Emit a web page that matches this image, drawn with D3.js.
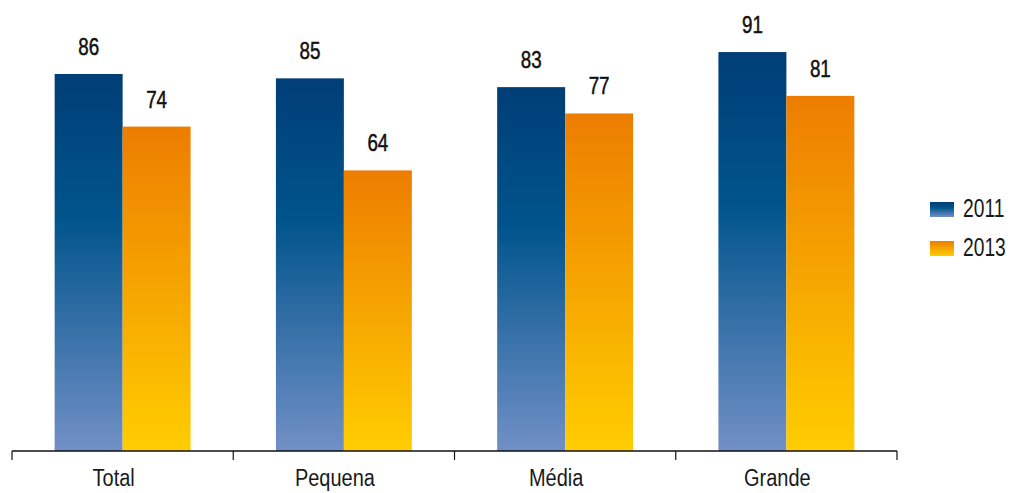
<!DOCTYPE html>
<html><head><meta charset="utf-8">
<script src="https://cdn.jsdelivr.net/npm/d3@7"></script>
<style>
body{margin:0;background:#fff;}
text{font-family:"Liberation Sans",Arial,sans-serif;}
</style></head>
<body><svg id="c" width="1011" height="493"></svg>
<script>
const categories = ["Total","Pequena","Média","Grande"];
const seriesNames = ["2011","2013"];
const values2011 = [86,85,83,91];
const values2013 = [74,64,77,81];

const svg = d3.select("#c");
const defs = svg.append("defs");
const g1 = defs.append("linearGradient").attr("id","gBlue").attr("x1",0).attr("y1",0).attr("x2",0).attr("y2",1);
g1.append("stop").attr("offset","0%").attr("stop-color","#003e77");
g1.append("stop").attr("offset","38%").attr("stop-color","#00548c");
g1.append("stop").attr("offset","100%").attr("stop-color","#7190c6");
const g2 = defs.append("linearGradient").attr("id","gOrange").attr("x1",0).attr("y1",0).attr("x2",0).attr("y2",1);
g2.append("stop").attr("offset","0%").attr("stop-color","#ed7d00");
g2.append("stop").attr("offset","100%").attr("stop-color","#ffcd00");
const fills = ["url(#gBlue)","url(#gOrange)"];

const x = d3.scaleBand().domain(categories).range([12,897]).paddingInner(0).paddingOuter(0);
const xs = d3.scaleBand().domain(seriesNames).range([0,x.bandwidth()]).paddingInner(0).paddingOuter(0.6277);
const y = d3.scaleLinear().domain([0,100]).range([451,12.6]);

const data = categories.map((c,i)=>({cat:c, vals:[values2011[i],values2013[i]]}));

const grp = svg.selectAll("g.cat").data(data).join("g").attr("class","cat")
  .attr("transform",d=>`translate(${x(d.cat)},0)`);
grp.selectAll("rect").data(d=>d.vals.map((v,j)=>({s:seriesNames[j],v,j}))).join("rect")
  .attr("x",d=>xs(d.s)).attr("width",xs.bandwidth())
  .attr("y",d=>y(d.v)).attr("height",d=>y(0)-y(d.v))
  .attr("fill",d=>fills[d.j]);
grp.selectAll("text.v").data(d=>d.vals.map((v,j)=>({s:seriesNames[j],v,j}))).join("text").attr("class","v")
  .attr("transform",d=>`translate(${xs(d.s)+xs.bandwidth()/2},${y(d.v)-19}) scale(0.8,1)`)
  .attr("text-anchor","middle").attr("font-size",23.5).attr("fill","#111")
  .attr("stroke","#111").attr("stroke-width",0.5)
  .text(d=>d.v);

// axis
const axis = svg.append("g").attr("transform","translate(0,451)");
axis.append("line").attr("x1",12).attr("x2",897).attr("stroke","#111").attr("stroke-width",1.5);
const tickPos = categories.map(c=>x(c)).concat([x.range()[1]]);
axis.selectAll("line.t").data(tickPos).join("line").attr("class","t")
  .attr("x1",d=>d).attr("x2",d=>d).attr("y1",0).attr("y2",9).attr("stroke","#111").attr("stroke-width",1.2);
axis.selectAll("text").data(categories).join("text")
  .attr("transform",d=>`translate(${x(d)+x.bandwidth()/2-9},34.5) scale(0.85,1)`)
  .attr("text-anchor","middle").attr("font-size",23.5).attr("fill","#1a1a1a").text(d=>d);

// legend
const leg = svg.append("g").selectAll("g").data(seriesNames).join("g")
  .attr("transform",(d,i)=>`translate(930,${202+i*39})`);
leg.append("rect").attr("width",24).attr("height",15).attr("fill",(d,i)=>fills[i]);
leg.append("text").attr("transform","translate(33,14.5) scale(0.77,1)")
  .attr("font-size",25).attr("fill","#1a1a1a").text(d=>d);
</script></body></html>
